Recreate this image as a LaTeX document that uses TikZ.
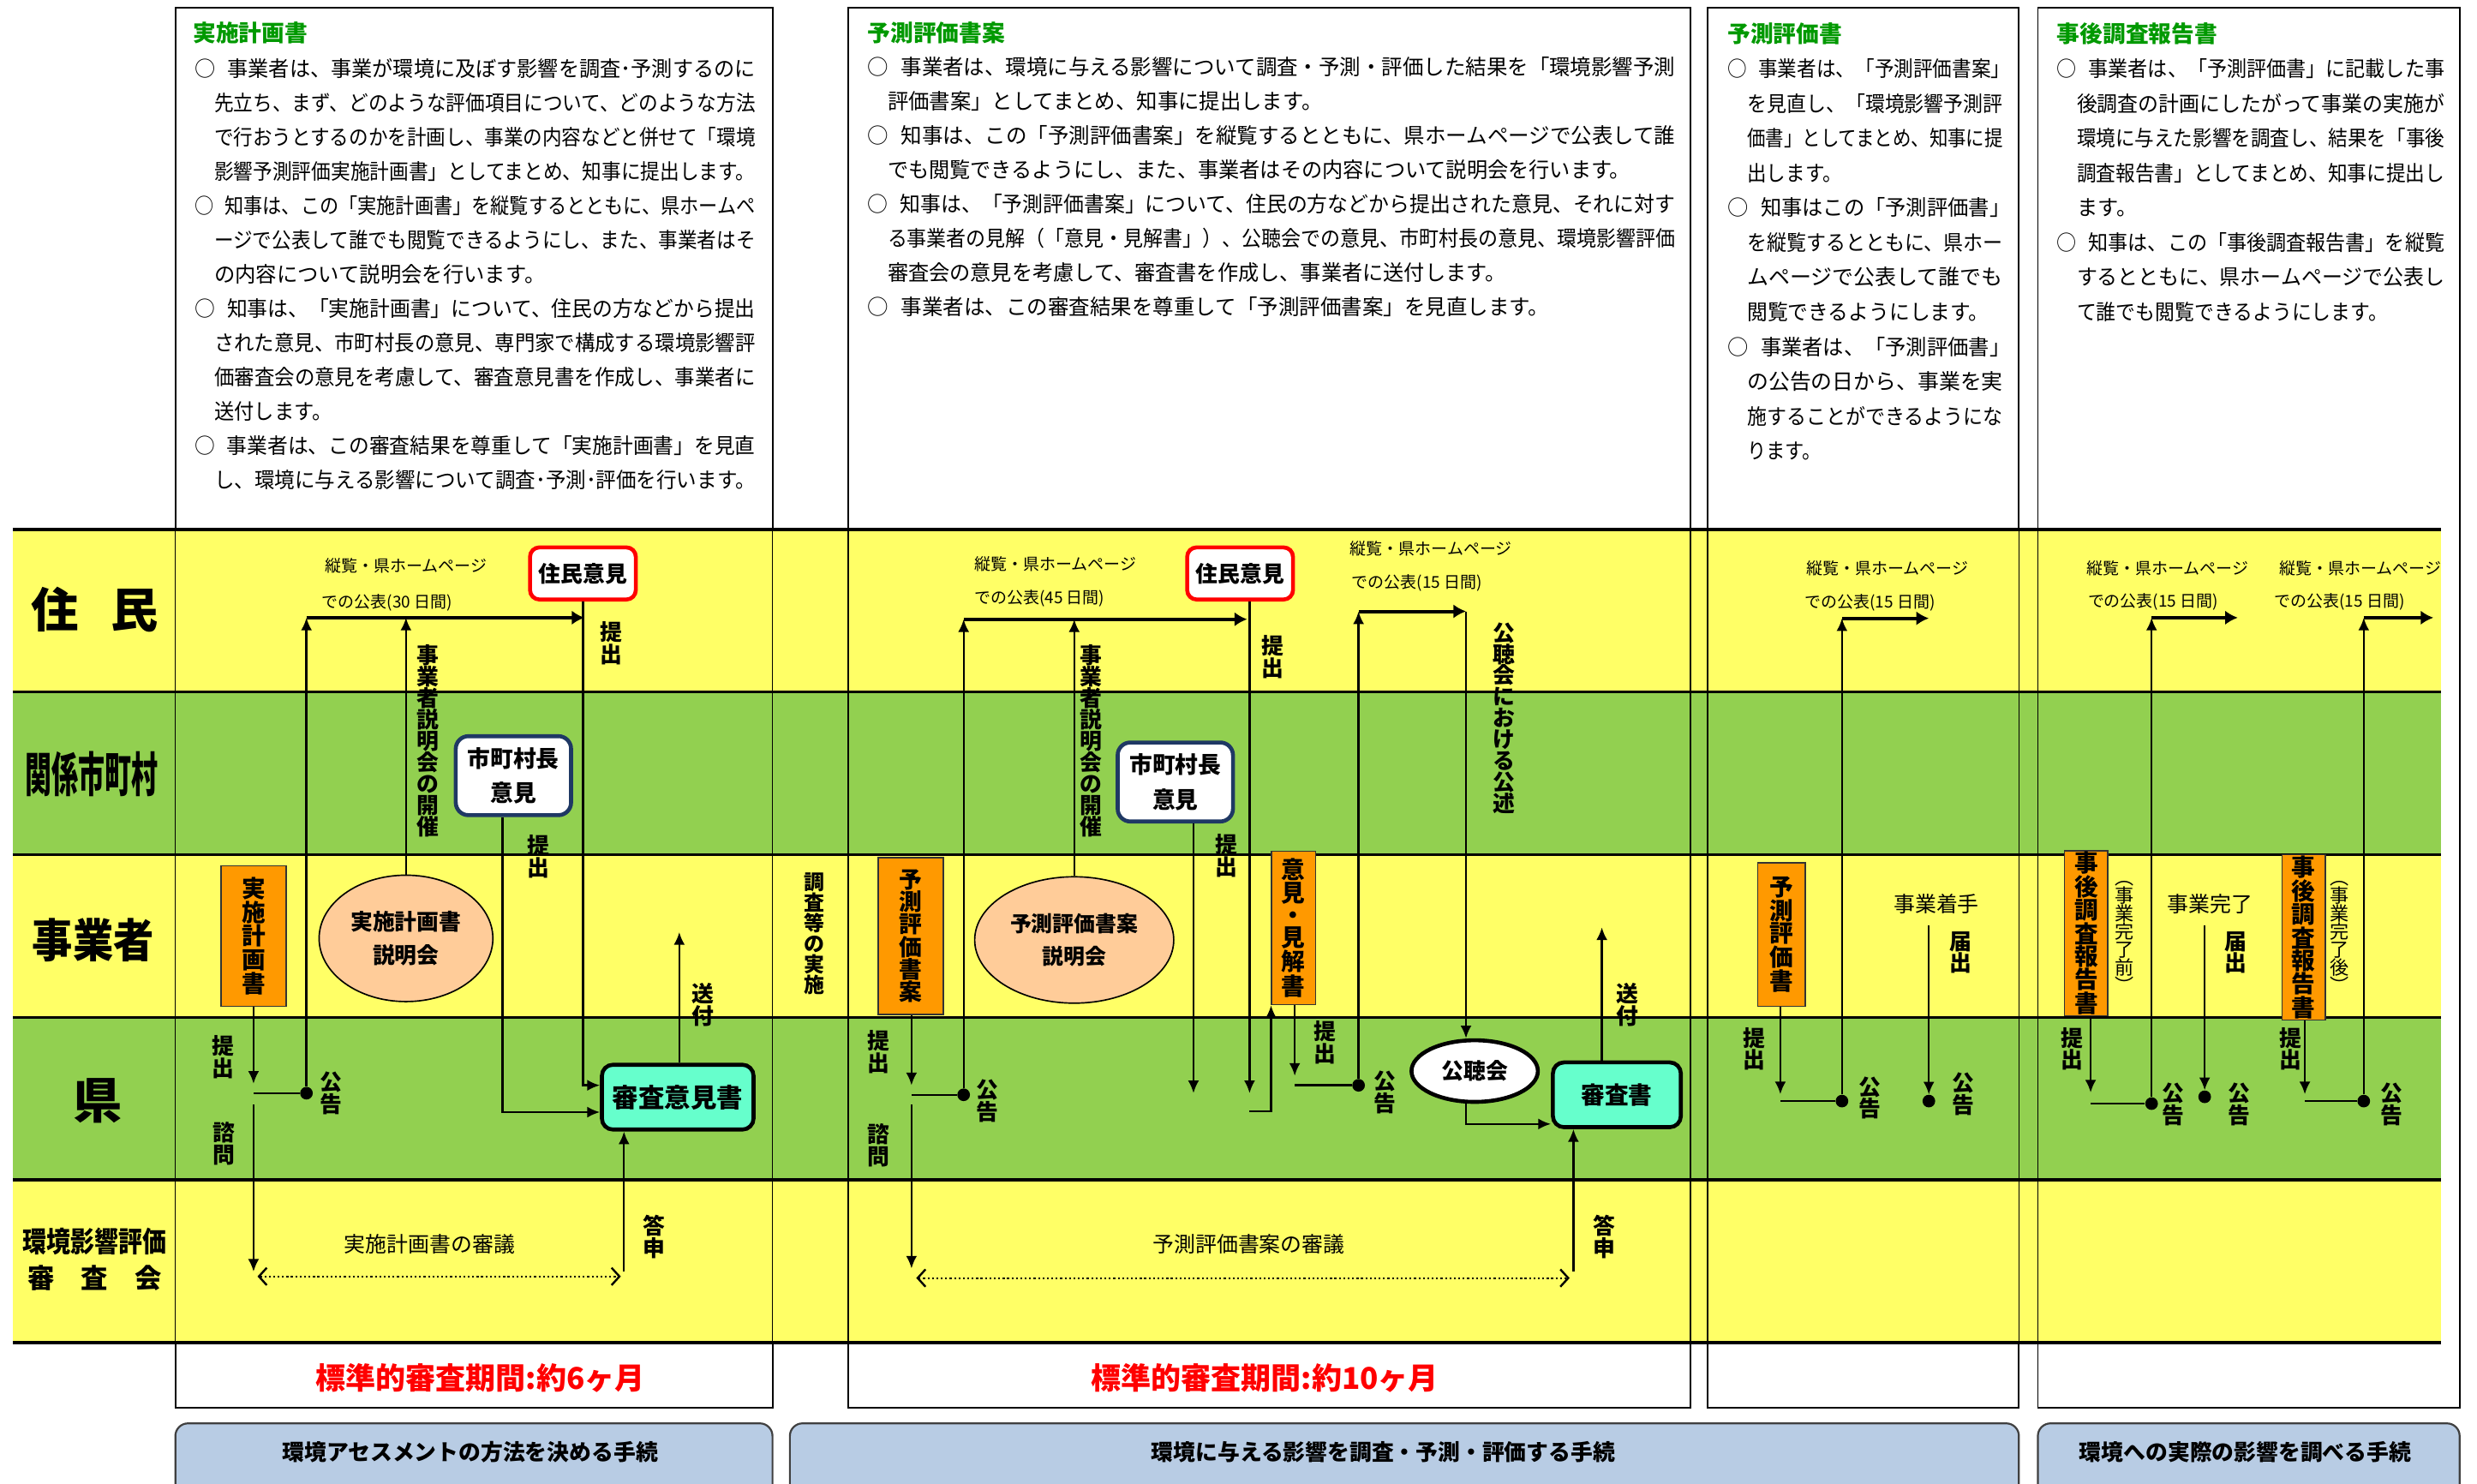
\documentclass[tikz,border=0pt]{standalone}
\usepackage{fontspec}
\usepackage{graphicx}
\setmainfont{Noto Sans CJK JP}
\usetikzlibrary{arrows.meta,shapes.geometric,calc}
\definecolor{bandY}{HTML}{FFFF66}
\definecolor{bandG}{HTML}{92D050}
\definecolor{docOr}{HTML}{FF9900}
\definecolor{peach}{HTML}{FFCC99}
\definecolor{mint}{HTML}{66FFCC}
\definecolor{bnr}{HTML}{B8CCE4}
\definecolor{ttlG}{HTML}{009900}
\definecolor{navy}{HTML}{1F3864}
\newcommand\fsz[2]{\fontsize{#1}{#2}\selectfont}
\newcounter{lnc}
\newcommand\fitln[4]{\stepcounter{lnc}\node[anchor=base west,inner sep=0,font=\fsz{13.5}{13.5}] (ln\arabic{lnc}) at (#1,#2+5) {\resizebox{#3pt}{\height}{#4}};}
\newcommand\bul{○\hspace{8pt}}
\tikzset{
  ln/.style={line width=1.3pt},
  varr/.style={line width=1.3pt,-{Latex[length=8pt,width=7pt]}},
  harr/.style={line width=2.2pt,-{Latex[length=8pt,width=9pt]}},
  dotarr/.style={line width=1.2pt,dash pattern=on 1.2pt off 1.6pt,>={Straight Barb[length=5pt,width=11pt,line width=1.3pt]},<->},
  dot/.style={circle,fill=black,inner sep=0,minimum size=8pt},
  vlab/.style={font=\bfseries\fsz{14}{14},align=center,inner sep=0},
  vlabs/.style={font=\bfseries\fsz{14}{13.5},align=center,inner sep=0},
  paren/.style={font=\fsz{12}{11.4},align=center,inner sep=0},
  smtxt/.style={font=\fsz{10.3}{10.3},inner sep=0},
  midtxt/.style={font=\fsz{13.5}{13.5},inner sep=0},
  ttl/.style={anchor=west,inner sep=0,font=\bfseries\fsz{14.5}{14.5},text=ttlG},
  resbox/.style={draw=red,line width=2.5pt,fill=white,rounded corners=6pt,minimum width=67pt,minimum height=33pt,inner sep=0,font=\bfseries\fsz{14}{14}},
  maybox/.style={draw=navy,line width=2.5pt,fill=white,rounded corners=8pt,minimum width=73pt,minimum height=50pt,inner sep=0,align=center,font=\bfseries\fsz{14.5}{22}},
  shinsa/.style={draw=black,line width=2.5pt,fill=mint,rounded corners=7pt,inner sep=0,font=\bfseries\fsz{16.5}{16.5}},
  hearing/.style={ellipse,draw=black,line width=2.5pt,fill=white,minimum width=80pt,minimum height=39pt,inner sep=0,font=\bfseries\fsz{14}{14}},
  sembox/.style={ellipse,draw=black,line width=0.9pt,fill=peach,inner sep=0,align=center,font=\bfseries\fsz{14}{21}},
  docbox/.style={draw=black!80,line width=0.9pt,fill=docOr,inner sep=0,align=center,font=\bfseries\fsz{15}{15}},
  bnrbox/.style={rounded corners=8pt,fill=bnr,draw=black!75,line width=1.2pt},
  bnrtxt/.style={font=\bfseries\fsz{14}{14},inner sep=0},
  pertxt/.style={font=\bfseries\fsz{19}{19},text=red,inner sep=0},
  rowlab/.style={font=\bfseries,inner sep=0}
}
\begin{document}
\begin{tikzpicture}[x=1pt,y=-1pt]
\useasboundingbox (0,0) rectangle (1568,939);
\clip (0,0) rectangle (1568,939);
\fill[white] (0,0) rectangle (1568,939);
% column boxes
\foreach \xa/\xb in {111/489,537/1070,1081/1278,1290/1557}
  \draw[line width=1pt,fill=white] (\xa,5) rectangle (\xb,891);
% bands
\fill[bandY] (8,335) rectangle (1545,438);
\fill[bandG] (8,438) rectangle (1545,541);
\fill[bandY] (8,541) rectangle (1545,644);
\fill[bandG] (8,644) rectangle (1545,747);
\fill[bandY] (8,747) rectangle (1545,850);
\foreach \xx in {111,489,537,1070,1081,1278,1290}
  \draw[line width=0.9pt] (\xx,335) -- (\xx,850);
\foreach \yy in {335,438,541,644,747,850}
  \draw[line width=2pt] (8,\yy) -- (1545,\yy);
% banners
\draw[bnrbox] (111,901) rectangle (489,960);
\draw[bnrbox] (500,901) rectangle (1278,960);
\draw[bnrbox] (1290,901) rectangle (1557,960);
\node[bnrtxt] (bt1) at (297.6,919.2) {環境アセスメントの方法を決める手続};
\node[bnrtxt] (bt2) at (875.6,919.2) {環境に与える影響を調査・予測・評価する手続};
\node[bnrtxt] (bt3) at (1421.3,919.2) {環境への実際の影響を調べる手続};
\node[pertxt] (per1) at (304,872.5) {標準的審査期間:約6ヶ月};
\node[pertxt] (per2) at (800.6,872.5) {標準的審査期間:約10ヶ月};
% row labels
\node[rowlab,font=\bfseries\fsz{30}{30}] (rJ) at (60,386) {住\hspace{20pt}民};
\node[rowlab] (rM) at (58,490) {\resizebox{84pt}{\height}{\bfseries\fsz{30}{30}関係市町村}};
\node[rowlab] (rB) at (59,595) {\resizebox{77pt}{\height}{\bfseries\fsz{29}{29}事業者}};
\node[rowlab,font=\bfseries\fsz{31}{31}] (rK) at (62,697) {県};
\node[rowlab] (rS1) at (60,786) {\resizebox{91pt}{\height}{\bfseries\fsz{18}{18}環境影響評価}};
\node[rowlab] (rS2) at (60,809) {\bfseries\fsz{17}{17}\makebox[85pt]{審\hfill 査\hfill 会}};
% ---------- top texts
\node[ttl] (tA) at (122,20.8) {実施計画書};
\fitln{123}{43.4}{355}{\bul 事業者は、事業が環境に及ぼす影響を調査･予測するのに}
\fitln{135.5}{65.1}{342.5}{先立ち、まず、どのような評価項目について、どのような方法}
\fitln{135.5}{86.8}{342.5}{で行おうとするのかを計画し、事業の内容などと併せて「環境}
\fitln{135.5}{108.5}{342.5}{影響予測評価実施計画書」としてまとめ、知事に提出します。}
\fitln{123}{130.2}{355}{\bul 知事は、この「実施計画書」を縦覧するとともに、県ホームペ}
\fitln{135.5}{151.9}{342.5}{ージで公表して誰でも閲覧できるようにし、また、事業者はそ}
\fitln{135.5}{173.6}{209.5}{の内容について説明会を行います。}
\fitln{123}{195.3}{355}{\bul 知事は、「実施計画書」について、住民の方などから提出}
\fitln{135.5}{217.0}{342.5}{された意見、市町村長の意見、専門家で構成する環境影響評}
\fitln{135.5}{238.7}{342.5}{価審査会の意見を考慮して、審査意見書を作成し、事業者に}
\fitln{135.5}{260.4}{74.5}{送付します。}
\fitln{123}{282.1}{355}{\bul 事業者は、この審査結果を尊重して「実施計画書」を見直}
\fitln{135.5}{303.8}{342.5}{し、環境に与える影響について調査･予測･評価を行います。}
\node[ttl] (tB) at (549,20.8) {予測評価書案};
\fitln{549}{42.5}{511.3}{\bul 事業者は、環境に与える影響について調査・予測・評価した結果を「環境影響予測}
\fitln{561.7}{64.2}{275.3}{評価書案」としてまとめ、知事に提出します。}
\fitln{549}{85.9}{511.3}{\bul 知事は、この「予測評価書案」を縦覧するとともに、県ホームページで公表して誰}
\fitln{561.7}{107.6}{470.3}{でも閲覧できるようにし、また、事業者はその内容について説明会を行います。}
\fitln{549}{129.3}{511.3}{\bul 知事は、「予測評価書案」について、住民の方などから提出された意見、それに対す}
\fitln{561.7}{151.0}{498.6}{る事業者の見解（「意見・見解書」）、公聴会での意見、市町村長の意見、環境影響評価}
\fitln{561.7}{172.7}{391.3}{審査会の意見を考慮して、審査書を作成し、事業者に送付します。}
\fitln{549}{194.4}{431.6}{\bul 事業者は、この審査結果を尊重して「予測評価書案」を見直します。}
\node[ttl] (tC) at (1093.4,21.3) {予測評価書};
\fitln{1093.4}{43.6}{179}{\bul 事業者は、「予測評価書案」}
\fitln{1105.9}{65.6}{161.8}{を見直し、「環境影響予測評}
\fitln{1105.9}{87.6}{161.8}{価書」としてまとめ、知事に提}
\fitln{1105.9}{109.6}{59.9}{出します。}
\fitln{1093.4}{131.6}{179}{\bul 知事はこの「予測評価書」}
\fitln{1105.9}{153.6}{161.8}{を縦覧するとともに、県ホー}
\fitln{1105.9}{175.6}{161.8}{ムページで公表して誰でも}
\fitln{1105.9}{197.6}{153.1}{閲覧できるようにします。}
\fitln{1093.4}{219.6}{179}{\bul 事業者は、「予測評価書」}
\fitln{1105.9}{241.6}{161.8}{の公告の日から、事業を実}
\fitln{1105.9}{263.6}{161.8}{施することができるようにな}
\fitln{1105.9}{285.6}{47.1}{ります。}
\node[ttl] (tD) at (1302,21.3) {事後調査報告書};
\fitln{1302}{43.6}{245.3}{\bul 事業者は、「予測評価書」に記載した事}
\fitln{1314.5}{65.6}{232.8}{後調査の計画にしたがって事業の実施が}
\fitln{1314.5}{87.6}{232.8}{環境に与えた影響を調査し、結果を「事後}
\fitln{1314.5}{109.6}{232.8}{調査報告書」としてまとめ、知事に提出し}
\fitln{1314.5}{131.6}{38.1}{ます。}
\fitln{1302}{153.6}{245.3}{\bul 知事は、この「事後調査報告書」を縦覧}
\fitln{1314.5}{175.6}{232.8}{するとともに、県ホームページで公表し}
\fitln{1314.5}{197.6}{196.9}{て誰でも閲覧できるようにします。}
% ---------- column A diagram
\node[smtxt] (kA1) at (257,358) {縦覧・県ホームページ};
\node[smtxt] (kA2) at (245,381.4) {での公表(30 日間)};
\node[resbox] (jA) at (369,363) {住民意見};
\node[maybox] (mA) at (325,491) {市町村長\\意見};
\node[docbox,minimum width=41pt,minimum height=89pt] (dA) at (160.5,592.5) {実\\施\\計\\画\\書};
\node[sembox,minimum width=110pt,minimum height=80pt] (eA) at (257,594) {実施計画書\\説明会};
\node[shinsa,minimum width=96pt,minimum height=41pt] (sA) at (429,694.5) {審査意見書};
\node[dot] (pA) at (194,692) {};
\coordinate (hA) at (194,391);
\coordinate (hAe) at (370,391);
\draw[varr] (pA) -- (hA);
\draw[varr] (eA.north) -- (eA.north |- hA);
\draw[harr] (hA) -- (hAe);
\coordinate (cA1) at (369,687);
\draw[varr] (jA.south) |- (sA.west |- cA1);
\coordinate (cA2) at (318,704);
\draw[varr] (mA.south -| cA2) |- (sA.west |- cA2);
\coordinate (sendA) at (430,590);
\draw[varr] (sA.north -| sendA) -- (sendA);
\coordinate (ansA) at (395,805);
\draw[varr] (ansA) -- (sA.south -| ansA);
\coordinate (subA) at (160.5,686);
\draw[varr] (dA.south) -- (subA);
\coordinate (jnA) at (160.5,692);
\draw[ln] (jnA) -- (pA);
\coordinate (shA1) at (160.5,699);
\coordinate (shA2) at (160.5,805);
\draw[varr] (shA1) -- (shA2);
\coordinate (dLA) at (163,808);
\coordinate (dRA) at (393,808);
\draw[dotarr] (dLA) -- (dRA);
\node[vlab] (lA1) at (387,407) {提\\出};
\node[vlab] (lA2) at (341,542) {提\\出};
\node[vlabs] (lA3) at (271,469) {事\\業\\者\\説\\明\\会\\の\\開\\催};
\node[vlab] (lA4) at (445,636) {送\\付};
\node[vlab] (lA5) at (414,783) {答\\申};
\node[vlab] (lA6) at (141,669) {提\\出};
\node[vlab] (lA7) at (142,724) {諮\\問};
\node[vlab] (lA8) at (209.5,692) {公\\告};
\node[midtxt] (lA9) at (272,787.5) {実施計画書の審議};
% ---------- column B diagram
\node[vlab,font=\bfseries\fsz{13}{13}] (lB0) at (515.6,591) {調\\査\\等\\の\\実\\施};
\node[docbox,minimum width=41pt,minimum height=99pt,font=\bfseries\fsz{14.5}{14.3}] (dB) at (576.5,592.5) {予\\測\\評\\価\\書\\案};
\node[sembox,minimum width=126pt,minimum height=80pt,font=\bfseries\fsz{13.5}{21}] (eB) at (680,595) {予測評価書案\\説明会};
\node[dot] (pB1) at (610,693) {};
\coordinate (hB) at (610,392);
\coordinate (hBe) at (789.5,392);
\draw[varr] (pB1) -- (hB);
\draw[varr] (eB.north) -- (eB.north |- hB);
\draw[harr] (hB) -- (hBe);
\node[resbox] (jB) at (785,363) {住民意見};
\coordinate (cB1) at (791,692);
\draw[varr] (jB.south -| cB1) -- (cB1);
\node[maybox] (mB) at (744,495) {市町村長\\意見};
\coordinate (cB2) at (755.5,692);
\draw[varr] (mB.south -| cB2) -- (cB2);
\node[docbox,minimum width=28pt,minimum height=97pt,font=\bfseries\fsz{15}{14.2}] (oB) at (818.75,587.4) {意\\見\\・\\見\\解\\書};
\coordinate (fb1) at (791,703.5);
\coordinate (fb2) at (804.6,703.5);
\draw[varr] (fb1) -- (fb2) -- (oB.south -| fb2);
\coordinate (cB3) at (819.6,681);
\draw[varr] (oB.south -| cB3) -- (cB3);
\node[dot] (pB2) at (860,687) {};
\coordinate (jnB2) at (819.6,687);
\draw[ln] (jnB2) -- (pB2);
\coordinate (hB2) at (860,387);
\coordinate (hB2e) at (928,387);
\draw[varr] (pB2) -- (hB2);
\draw[harr] (hB2) -- (hB2e);
\node[hearing] (kB) at (933.5,678) {公聴会};
\draw[varr] (hB2e) -- (kB.north -| hB2e);
\node[shinsa,minimum width=81pt,minimum height=41pt,font=\bfseries\fsz{15}{15}] (sB) at (1023.5,693) {審査書};
\coordinate (cB4) at (928,711.5);
\draw[varr] (kB.south -| cB4) |- (sB.west |- cB4);
\coordinate (sendB) at (1014,587);
\draw[varr] (sB.north -| sendB) -- (sendB);
\coordinate (ansB) at (996,805);
\draw[varr] (ansB) -- (sB.south -| ansB);
\coordinate (subB) at (577,687);
\draw[varr] (dB.south -| subB) -- (subB);
\coordinate (jnB) at (577,693);
\draw[ln] (jnB) -- (pB1);
\coordinate (shB1) at (577,699);
\coordinate (shB2) at (577,803);
\draw[varr] (shB1) -- (shB2);
\coordinate (dLB) at (580,809);
\coordinate (dRB) at (993.6,809);
\draw[dotarr] (dLB) -- (dRB);
\node[smtxt] (kB1) at (668,357) {縦覧・県ホームページ};
\node[smtxt] (kB2) at (658,378.6) {での公表(45 日間)};
\node[smtxt] (kB3) at (906,347) {縦覧・県ホームページ};
\node[smtxt] (kB4) at (897,369) {での公表(15 日間)};
\node[vlab] (lB1) at (805.6,416) {提\\出};
\node[vlabs] (lB2) at (690.7,469) {事\\業\\者\\説\\明\\会\\の\\開\\催};
\node[vlab] (lB3) at (776.6,541.5) {提\\出};
\node[vlabs] (lB4) at (952,454.5) {公\\聴\\会\\に\\お\\け\\る\\公\\述};
\node[vlab] (lB5) at (556,666) {提\\出};
\node[vlab] (lB6) at (556,725) {諮\\問};
\node[vlab] (lB7) at (625,697) {公\\告};
\node[vlab] (lB8) at (838.8,660) {提\\出};
\node[vlab] (lB9) at (876.5,691.6) {公\\告};
\node[vlab] (lB10) at (1030,636) {送\\付};
\node[vlab] (lB11) at (1015.5,783) {答\\申};
\node[midtxt] (lB12) at (790.5,787.5) {予測評価書案の審議};
% ---------- column C diagram
\node[smtxt] (kC1) at (1194.7,359.7) {縦覧・県ホームページ};
\node[smtxt] (kC2) at (1183.8,381.4) {での公表(15 日間)};
\node[docbox,minimum width=30pt,minimum height=91pt,font=\bfseries\fsz{15}{14.2}] (dC) at (1127.6,591.5) {予\\測\\評\\価\\書};
\node[dot] (pC1) at (1166,697) {};
\coordinate (hC) at (1166,391.4);
\coordinate (hCe) at (1221,391.4);
\draw[varr] (pC1) -- (hC);
\draw[harr] (hC) -- (hCe);
\coordinate (subC) at (1127,692.7);
\draw[varr] (dC.south -| subC) -- (subC);
\coordinate (jnC) at (1127,697);
\draw[ln] (jnC) -- (pC1);
\node[dot] (pC2) at (1221,697) {};
\node[midtxt] (lC1) at (1225.8,572) {事業着手};
\coordinate (tC2) at (1221,586);
\draw[varr] (tC2) -- (pC2);
\node[vlab] (lC2) at (1110.5,664) {提\\出};
\node[vlab] (lC3) at (1183.8,695) {公\\告};
\node[vlab] (lC4) at (1241,603) {届\\出};
\node[vlab] (lC5) at (1243,692.7) {公\\告};
% ---------- column D diagram
\node[smtxt] (kD1) at (1372,359.7) {縦覧・県ホームページ};
\node[smtxt] (kD2) at (1363,381) {での公表(15 日間)};
\node[smtxt] (kD3) at (1494,359.7) {縦覧・県ホームページ};
\node[smtxt] (kD4) at (1481,381) {での公表(15 日間)};
\node[docbox,minimum width=27.4pt,minimum height=104.6pt,font=\bfseries\fsz{15}{14.3}] (dD1) at (1320.6,590.7) {事\\後\\調\\査\\報\\告\\書};
\node[docbox,minimum width=27.4pt,minimum height=104.7pt,font=\bfseries\fsz{15}{14.3}] (dD2) at (1458.3,593.4) {事\\後\\調\\査\\報\\告\\書};
\node[paren] (lD1) at (1345,593) {︵\\事\\業\\完\\了\\前\\︶};
\node[paren] (lD2) at (1480.7,593) {︵\\事\\業\\完\\了\\後\\︶};
\node[midtxt] (lD3) at (1399,572) {事業完了};
\node[dot] (pD1) at (1362,698.6) {};
\node[dot] (pD2) at (1395.6,694.3) {};
\node[dot] (pD3) at (1496.3,697) {};
\coordinate (hD1) at (1362,391);
\coordinate (hD1e) at (1416.6,391);
\draw[varr] (pD1) -- (hD1);
\draw[harr] (hD1) -- (hD1e);
\coordinate (hD3) at (1496.3,391);
\coordinate (hD3e) at (1540.4,391);
\draw[varr] (pD3) -- (hD3);
\draw[harr] (hD3) -- (hD3e);
\coordinate (tD2) at (1395.6,586);
\draw[varr] (tD2) -- (pD2);
\coordinate (subD1) at (1323.4,691.6);
\draw[varr] (dD1.south -| subD1) -- (subD1);
\coordinate (jnD1) at (1323.4,698.6);
\draw[ln] (jnD1) -- (pD1);
\coordinate (subD2) at (1459,692.7);
\draw[varr] (dD2.south -| subD2) -- (subD2);
\coordinate (jnD2) at (1459,697);
\draw[ln] (jnD2) -- (pD3);
\node[vlab] (lD4) at (1311.5,664) {提\\出};
\node[vlab] (lD5) at (1450.2,664) {提\\出};
\node[vlab] (lD6) at (1375.6,699) {公\\告};
\node[vlab] (lD7) at (1417.5,699) {公\\告};
\node[vlab] (lD8) at (1514,699) {公\\告};
\node[vlab] (lD9) at (1415.3,603) {届\\出};
\end{tikzpicture}
\end{document}
